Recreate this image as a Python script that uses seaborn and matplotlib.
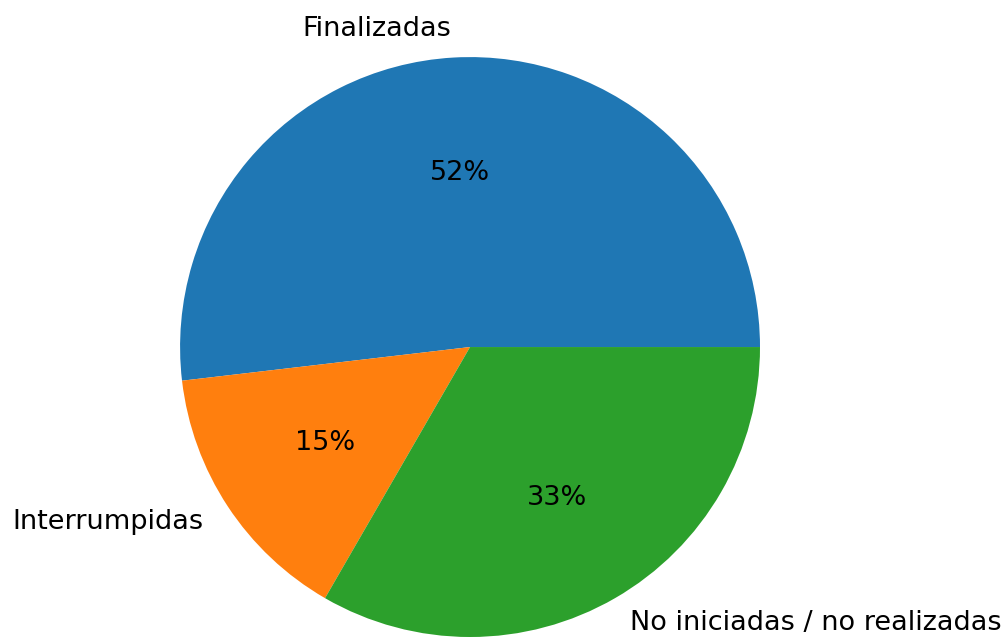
import matplotlib
matplotlib.use("Agg")
import matplotlib.pyplot as plt
import seaborn as sns

# --- Data (counts, shown as percentages) ---
labels = ["Finalizadas", "Interrumpidas", "No iniciadas / no realizadas"]
counts = [14, 4, 9]

colors = sns.color_palette("tab10", 3)

fig = plt.figure(figsize=(10.05, 6.37), dpi=100)
# pie centre ~ (470, 347) px, radius ~ 290 px
ax = fig.add_axes([0.107, -0.1138, 0.7214, 1.138])

ax.pie(counts, labels=labels, colors=colors, autopct="%1.0f%%",
       textprops={"fontsize": 19.5})
ax.set_aspect("equal")

fig.savefig("out.png", dpi=100)
